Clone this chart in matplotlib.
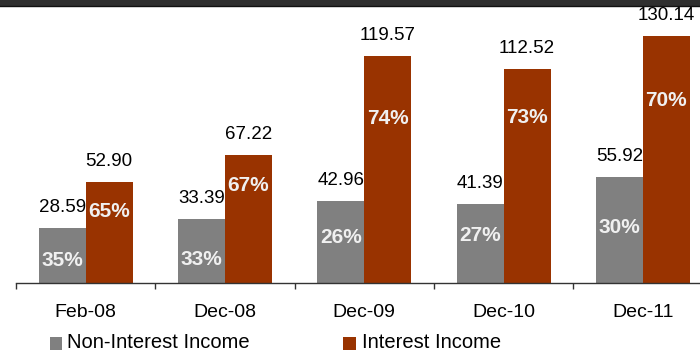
import matplotlib
matplotlib.use("Agg")
import matplotlib.pyplot as plt
from matplotlib.patches import Rectangle
from matplotlib.lines import Line2D
import numpy as np

plt.rcParams['font.family'] = ['Liberation Sans', 'DejaVu Sans']

periods = ["Feb-08", "Dec-08", "Dec-09", "Dec-10", "Dec-11"]
non_interest = [28.59, 33.39, 42.96, 41.39, 55.92]
interest = [52.90, 67.22, 119.57, 112.52, 130.14]
series_names = ["Non-Interest Income", "Interest Income"]

# where the share labels sit inside each bar (fraction of bar height)
grey_label_frac = [0.45, 0.40, 0.58, 0.63, 0.54]
red_label_frac = [0.725, 0.78, 0.735, 0.785, 0.745]

GREY = "#808080"
RED = "#993300"

W, H = 700, 350
fig = plt.figure(figsize=(W / 100, H / 100), dpi=100)

base_px = 282.5
px_per_unit = 1.893
ymax = 140
left_px = 16
group_px = 139.3
ax_h = ymax * px_per_unit
ax = fig.add_axes([left_px / W, (H - base_px) / H, 5 * group_px / W, ax_h / H])
ax.set_xlim(-0.5, 4.5)
ax.set_ylim(0, ymax)

x = np.arange(len(periods))
bw = 47 / group_px
ax.bar(x - bw / 2, non_interest, bw, color=GREY, linewidth=0)
ax.bar(x + bw / 2, interest, bw, color=RED, linewidth=0)

totals = np.array(non_interest) + np.array(interest)
for i in range(len(periods)):
    g, r = non_interest[i], interest[i]
    gp = round(100 * g / totals[i])
    rp = round(100 * r / totals[i])
    for xc, v in ((x[i] - bw / 2, g), (x[i] + bw / 2, r)):
        ax.annotate(f"{v:.2f}", (xc, v), xytext=(0, 16), textcoords="offset pixels",
                    ha="center", va="baseline", fontsize=13.5, color="black")
    ax.annotate(f"{gp}%", (x[i] - bw / 2, g * grey_label_frac[i]), xytext=(0, -7.5),
                textcoords="offset pixels", ha="center", va="baseline",
                fontsize=15, fontweight="bold", color="#f0f0f0")
    ax.annotate(f"{rp}%", (x[i] + bw / 2, r * red_label_frac[i]), xytext=(0, -7.5),
                textcoords="offset pixels", ha="center", va="baseline",
                fontsize=15, fontweight="bold", color="#f0f0f0")
    ax.annotate(periods[i], (x[i], 0), xytext=(0, -34.5), textcoords="offset pixels",
                ha="center", va="baseline", fontsize=14, color="black",
                annotation_clip=False)

for s in ("top", "right", "left"):
    ax.spines[s].set_visible(False)
ax.spines["bottom"].set_color("#333333")
ax.spines["bottom"].set_linewidth(1.0)
ax.set_yticks([])
ax.set_xticks(np.arange(-0.5, 5, 1.0))
ax.set_xticklabels([])
ax.tick_params(axis="x", direction="out", length=4.5, width=1.0, color="#333333")

# legend drawn in figure pixels
def fig_px_rect(x0, y0, w, h, color):
    fig.add_artist(Rectangle((x0 / W, 1 - (y0 + h) / H), w / W, h / H,
                             transform=fig.transFigure, color=color, lw=0))

fig_px_rect(50, 337, 12.5, 12.5, GREY)
fig.text(67 / W, 1 - 347.5 / H, series_names[0], fontsize=14.5, va="baseline", ha="left")
fig_px_rect(343, 337, 12.5, 12.5, RED)
fig.text(362 / W, 1 - 347.5 / H, series_names[1], fontsize=14.5, va="baseline", ha="left")

# dark header strip
fig_px_rect(0, 0, W, 6, "#2f2f2f")
fig.add_artist(Line2D([0, 1], [1 - 5.5 / H, 1 - 5.5 / H], transform=fig.transFigure,
                      color="#111111", lw=1.0))

fig.savefig("out.png", dpi=100)
